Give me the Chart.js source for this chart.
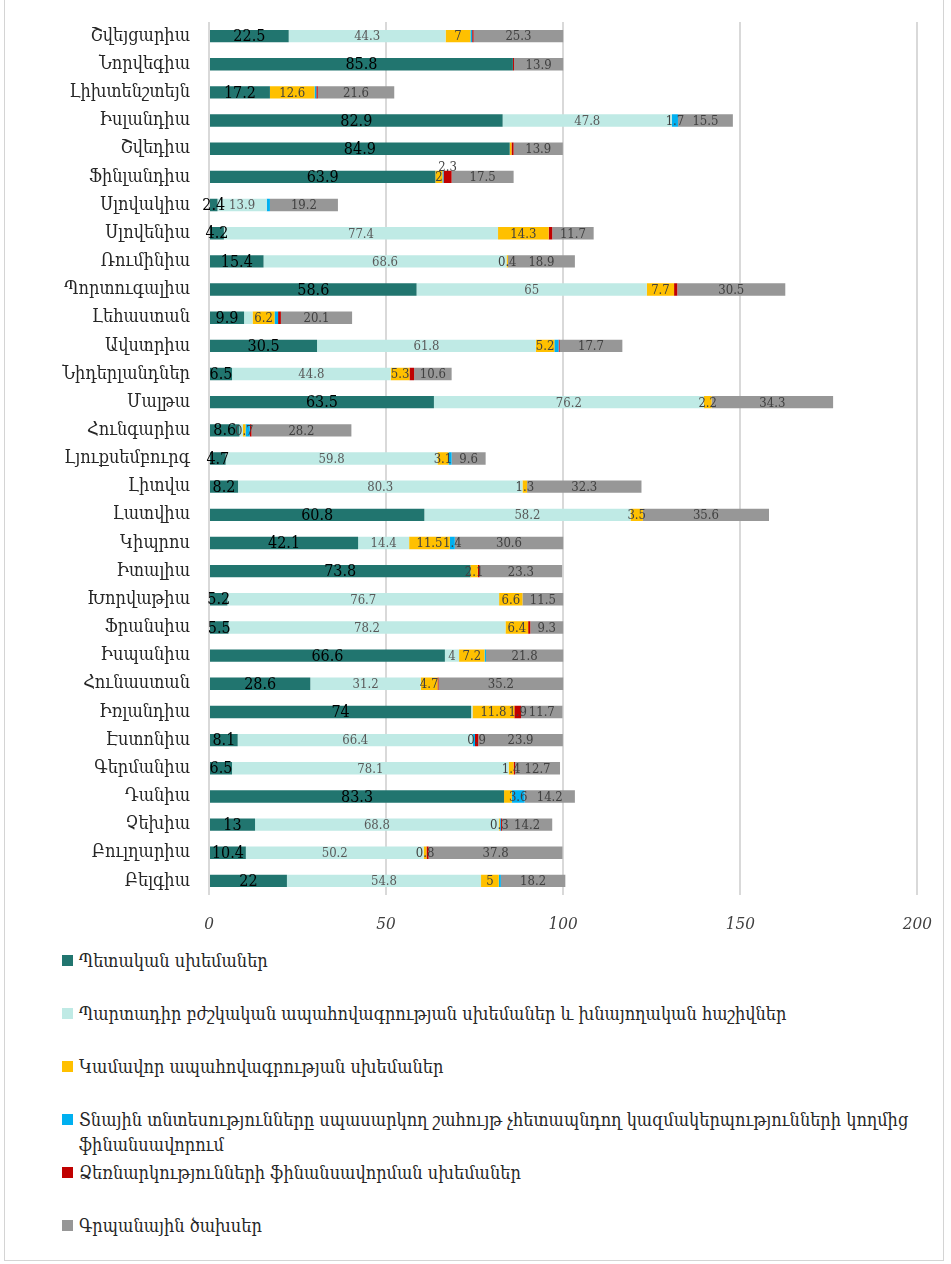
<!DOCTYPE html>
<html lang="hy">
<head>
<meta charset="utf-8">
<title>Առողջապահական ծախսերի ֆինանսավորում</title>
<script src="https://cdn.jsdelivr.net/npm/chart.js@4.4.1/dist/chart.umd.min.js"></script>
<style>
  body { margin: 0; background: #fff; font-family: "DejaVu Serif Condensed", "DejaVu Serif", serif; }
  #frame { position: absolute; left: 4px; top: -2px; width: 940px; height: 1263px; border: 1px solid #d4d4d4; box-sizing: border-box; }
  #wrap { position: absolute; left: 0; top: 0; width: 951px; height: 940px; }
  #legend { position: absolute; left: 62px; top: 948px; width: 866px; }
  .item { position: relative; height: 53px; padding-left: 17px; font-size: 18px; line-height: 25px; color: #262626; }
  .item i { position: absolute; left: 0; top: 7px; width: 11px; height: 11px; }
</style>
</head>
<body>
<div id="frame"></div>
<div id="wrap"><canvas id="chart" width="951" height="940"></canvas></div>
<div id="legend"></div>
<script>
// countries, top to bottom
const countries = ['Շվեյցարիա', 'Նորվեգիա', 'Լիխտենշտեյն', 'Իսլանդիա', 'Շվեդիա', 'Ֆինլանդիա', 'Սլովակիա',
  'Սլովենիա', 'Ռումինիա', 'Պորտուգալիա', 'Լեհաստան', 'Ավստրիա', 'Նիդերլանդներ', 'Մալթա', 'Հունգարիա',
  'Լյուքսեմբուրգ', 'Լիտվա', 'Լատվիա', 'Կիպրոս', 'Իտալիա', 'Խորվաթիա', 'Ֆրանսիա', 'Իսպանիա', 'Հունաստան',
  'Իռլանդիա', 'Էստոնիա', 'Գերմանիա', 'Դանիա', 'Չեխիա', 'Բուլղարիա', 'Բելգիա'];

const government = [22.5, 85.8, 17.2, 82.9, 84.9, 63.9, 2.4, 4.2, 15.4, 58.6, 9.9, 30.5, 6.5, 63.5, 8.6, 4.7,
  8.2, 60.8, 42.1, 73.8, 5.2, 5.5, 66.6, 28.6, 74, 8.1, 6.5, 83.3, 13, 10.4, 22];
const compulsory = [44.3, 0, 0, 47.8, 0, 0, 13.9, 77.4, 68.6, 65, 2.4, 61.8, 44.8, 76.2, 1.0, 59.8,
  80.3, 58.2, 14.4, 0, 76.7, 78.2, 4, 31.2, 0.4, 66.4, 78.1, 0, 68.8, 50.2, 54.8];
const voluntary = [7, 0, 12.6, 0, 0.5, 2, 0, 14.3, 0.4, 7.7, 6.2, 5.2, 5.3, 2.2, 0.7, 3.1,
  1.3, 3.5, 11.5, 2.1, 6.6, 6.4, 7.2, 4.7, 11.8, 0, 1.4, 2.2, 0.3, 0.8, 5];
const npish = [0.5, 0, 0.5, 1.7, 0, 0.3, 0.9, 0, 0, 0, 1.0, 1.2, 0, 0, 1.2, 0.9,
  0, 0, 1.4, 0, 0, 0, 0.4, 0, 0, 0.6, 0, 3.6, 0.3, 0, 0.6];
const enterprise = [0.4, 0.3, 0.4, 0, 0.6, 2.3, 0, 1.0, 0, 0.9, 0.8, 0.3, 1.3, 0, 0.5, 0,
  0, 0, 0, 0.5, 0, 0.6, 0, 0.3, 1.9, 0.9, 0.4, 0, 0.3, 0.6, 0];
const outOfPocket = [25.3, 13.9, 21.6, 15.5, 13.9, 17.5, 19.2, 11.7, 18.9, 30.5, 20.1, 17.7, 10.6, 34.3, 28.2, 9.6,
  32.3, 35.6, 30.6, 23.3, 11.5, 9.3, 21.8, 35.2, 11.7, 23.9, 12.7, 14.2, 14.2, 37.8, 18.2];

const seriesNames = [
  'Պետական սխեմաներ',
  'Պարտադիր բժշկական ապահովագրության սխեմաներ և խնայողական հաշիվներ',
  'Կամավոր ապահովագրության սխեմաներ',
  'Տնային տնտեսությունները սպասարկող շահույթ չհետապնդող կազմակերպությունների կողմից ֆինանսավորում',
  'Ձեռնարկությունների ֆինանսավորման սխեմաներ',
  'Գրպանային ծախսեր'
];
const seriesColors = ['#21756f', '#bfeae5', '#ffc000', '#00b0f0', '#c00000', '#979797'];
const xTicks = [0, 50, 100, 150, 200];

const FONT = '"DejaVu Serif Condensed", "DejaVu Serif", serif';

// which value labels are printed on the bars
function labelVisible(di, i, v) {
  if (!v) return false;
  if (di === 1) return v >= 3;
  if (di === 2) return !(i === 4 || i === 27);
  if (di === 3) return v >= 1.4;
  if (di === 4) return v >= 1.9 || i === 25;
  return true;
}

const barLabels = {
  id: 'barLabels',
  afterDatasetsDraw(chart) {
    const ctx = chart.ctx;
    ctx.save();
    ctx.textAlign = 'center';
    ctx.textBaseline = 'middle';
    chart.data.datasets.forEach((ds, di) => {
      const meta = chart.getDatasetMeta(di);
      meta.data.forEach((bar, i) => {
        const v = ds.data[i];
        if (!labelVisible(di, i, v)) return;
        let y = bar.y + 1;
        if (di === 4 && i === 5) y -= 10; // Finland: pushed above the bar
        if (di === 0) {
          ctx.font = '16px ' + FONT;
          ctx.fillStyle = '#000';
        } else {
          ctx.font = '13px ' + FONT;
          ctx.fillStyle = di === 1 ? '#595959' : '#404040';
        }
        ctx.fillText(String(v), (bar.x + bar.base) / 2, y);
      });
    });
    ctx.restore();
  }
};

const datasets = [government, compulsory, voluntary, npish, enterprise, outOfPocket].map((data, k) => ({
  label: seriesNames[k],
  data: data,
  backgroundColor: seriesColors[k],
  barPercentage: 0.44,
  categoryPercentage: 1
}));

new Chart(document.getElementById('chart'), {
  type: 'bar',
  data: { labels: countries, datasets: datasets },
  options: {
    indexAxis: 'y',
    responsive: false,
    devicePixelRatio: 1,
    animation: false,
    layout: { padding: { left: 0, right: 33, top: 22, bottom: 0 } },
    plugins: { legend: { display: false }, tooltip: { enabled: false } },
    scales: {
      x: {
        stacked: true,
        min: 0,
        max: 200,
        afterBuildTicks: s => { s.ticks = xTicks.map(v => ({ value: v })); },
        afterFit: s => { s.height = 45; },
        ticks: { padding: 19, color: '#404040', font: { family: FONT, size: 17, style: 'italic' } },
        grid: { color: '#d9d9d9', lineWidth: 2, drawTicks: false },
        border: { display: false }
      },
      y: {
        stacked: true,
        afterFit: s => { s.width = 209; s.paddingTop = 0; s.paddingBottom = 0; },
        ticks: { padding: 19, color: '#262626', font: { family: FONT, size: 18 } },
        grid: { display: false, drawTicks: false },
        border: { display: false }
      }
    }
  },
  plugins: [barLabels]
});

// legend, one entry per row
const legend = document.getElementById('legend');
seriesNames.forEach((name, k) => {
  const row = document.createElement('div');
  row.className = 'item';
  row.innerHTML = '<i style="background:' + seriesColors[k] + '"></i>' + name;
  legend.appendChild(row);
});
</script>
</body>
</html>
